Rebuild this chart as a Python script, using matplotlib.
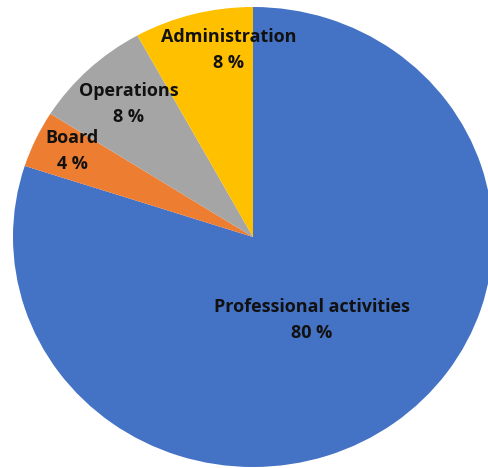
import matplotlib
matplotlib.use("Agg")
from matplotlib import pyplot as plt

# slice data, clockwise from 12 o'clock
labels = ["Professional activities", "Board", "Operations", "Administration"]
shares = [80, 4, 8, 8]
colors = ["#4472C4", "#ED7D31", "#A5A5A5", "#FFC000"]

# label anchor points (data coords of the unit pie)
label_pos = [(0.246, -0.361), (-0.754, 0.374), (-0.517, 0.578), (-0.10, 0.813)]

fig = plt.figure(figsize=(4.89, 4.68), dpi=100)
ax = fig.add_axes([0, 0, 1, 1])

ax.pie(shares, colors=colors, startangle=90, counterclock=False,
       radius=1, wedgeprops={"linewidth": 0})

# the picture is a little wider than tall
ax.set_aspect("auto")
ax.set_xlim(-253 / 240, (489 - 253) / 240)
ax.set_ylim((237 - 468) / 230, 237 / 230)
ax.axis("off")

for name, val, (x, y) in zip(labels, shares, label_pos):
    ax.text(x, y, f"{name}\n{val} %", ha="center", va="center",
            fontsize=13, fontweight="bold", family=["Open Sans", "DejaVu Sans"],
            color="#111111", linespacing=1.6)

fig.savefig("out.png", dpi=100)
